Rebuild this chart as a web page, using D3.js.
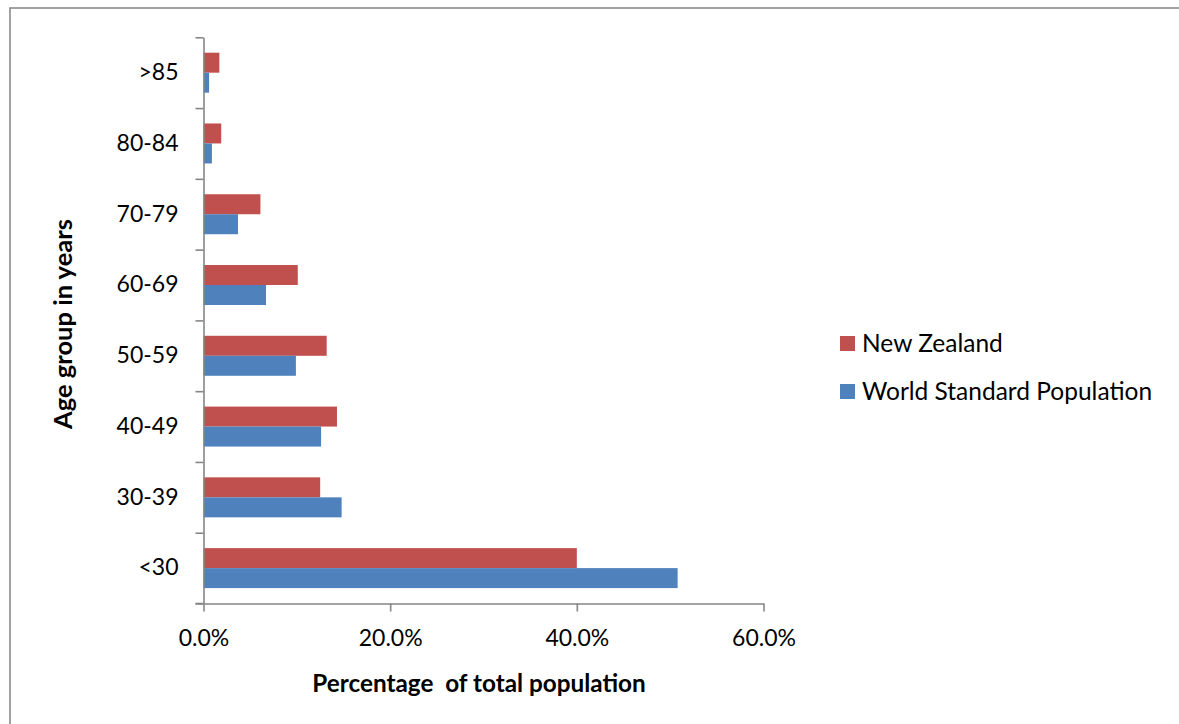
<!DOCTYPE html>
<html>
<head>
<meta charset="utf-8">
<script src="https://cdn.jsdelivr.net/npm/d3@7"></script>
<style>
  html, body { margin: 0; padding: 0; background: #fff; }
  svg { display: block; }
  text { font-family: Lato, "Open Sans", sans-serif; fill: #000; }
</style>
</head>
<body>
<svg id="chart" width="1179" height="724"></svg>
<script>
// Age groups, bottom to top as drawn
const ageGroups = ["<30", "30-39", "40-49", "50-59", "60-69", "70-79", "80-84", ">85"];
// Share of total population (%)
const newZealand = [40.0, 12.5, 14.3, 13.2, 10.1, 6.1, 1.9, 1.7];
const worldStandard = [50.8, 14.8, 12.6, 9.9, 6.7, 3.7, 0.9, 0.6];
const seriesNames = ["New Zealand", "World Standard Population"];
const seriesColors = ["#C0504D", "#4F81BD"];
const xTicks = [0, 20, 40, 60];

const svg = d3.select("#chart");

// Outer chart frame (runs off the right and bottom edges)
svg.append("rect")
  .attr("x", 10).attr("y", 8)
  .attr("width", 1200).attr("height", 760)
  .attr("fill", "none").attr("stroke", "#8a8a8a").attr("stroke-width", 1.6);

const plot = { left: 203.5, right: 763.5, top: 37.3, bottom: 603.5 };

const x = d3.scaleLinear().domain([0, 60]).range([plot.left, plot.right]);

// Bands from bottom (<30) to top (>85)
const y = d3.scaleBand()
  .domain(ageGroups)
  .range([plot.bottom, plot.top])
  .padding(0);

// Two bars per band, New Zealand above World Standard
const inner = d3.scaleBand()
  .domain(seriesNames)
  .range([y.bandwidth() * 0.2175, y.bandwidth() * 0.7825]);

const rows = ageGroups.map((g, i) => ({
  group: g,
  values: [newZealand[i], worldStandard[i]]
}));

const groups = svg.append("g").selectAll("g")
  .data(rows).join("g")
  .attr("transform", d => `translate(0,${y(d.group)})`);

groups.selectAll("rect")
  .data(d => d.values.map((v, k) => ({ name: seriesNames[k], value: v, k })))
  .join("rect")
  .attr("x", x(0))
  .attr("y", d => inner(d.name))
  .attr("width", d => x(d.value) - x(0))
  .attr("height", inner.bandwidth())
  .attr("fill", d => seriesColors[d.k]);

const axisColor = "#868686";

// Y axis: tick marks at band edges
const yEdge = d3.scaleLinear().domain([0, ageGroups.length]).range([plot.bottom, plot.top]);
const yAxisG = svg.append("g")
  .attr("transform", `translate(${plot.left},0)`)
  .call(d3.axisLeft(yEdge).tickValues(d3.range(ageGroups.length + 1)).tickFormat("").tickSize(8).tickSizeOuter(0));
yAxisG.selectAll("path, line").attr("stroke", axisColor).attr("stroke-width", 1.6);

// Y category labels
const yLabelG = svg.append("g")
  .attr("transform", `translate(${plot.left},0)`)
  .call(d3.axisLeft(y).tickSize(0).tickPadding(25));
yLabelG.select(".domain").remove();
yLabelG.selectAll("text")
  .style("font-family", "Lato, 'Open Sans', sans-serif")
  .style("font-size", "23px")
  .attr("fill", "#000");

// X axis
const xAxisG = svg.append("g")
  .attr("transform", `translate(0,${plot.bottom})`)
  .call(d3.axisBottom(x).tickValues(xTicks).tickFormat(d => d3.format(".1f")(d) + "%").tickSize(8).tickSizeOuter(0).tickPadding(18));
xAxisG.selectAll("path, line").attr("stroke", axisColor).attr("stroke-width", 1.6);
xAxisG.selectAll("text")
  .style("font-family", "Lato, 'Open Sans', sans-serif")
  .style("font-size", "23px")
  .attr("fill", "#000");
// extend the axis line left to meet the bottom y tick
svg.append("line")
  .attr("x1", plot.left - 8).attr("x2", plot.left)
  .attr("y1", plot.bottom).attr("y2", plot.bottom)
  .attr("stroke", axisColor).attr("stroke-width", 1.6);

// Axis titles
svg.append("text")
  .attr("x", 479).attr("y", 692)
  .attr("text-anchor", "middle")
  .style("font-size", "24.3px").style("font-weight", "bold")
  .attr("xml:space", "preserve")
  .text("Percentage  of total population");

svg.append("text")
  .attr("transform", "translate(72,324) rotate(-90)")
  .attr("text-anchor", "middle")
  .style("font-size", "25.5px").style("font-weight", "bold")
  .text("Age group in years");

// Legend
const legend = svg.append("g").selectAll("g")
  .data(seriesNames).join("g")
  .attr("transform", (d, i) => `translate(840,${343.5 + i * 48})`);
legend.append("rect")
  .attr("x", 0).attr("y", -7.5).attr("width", 15).attr("height", 15)
  .attr("fill", (d, i) => seriesColors[i]);
legend.append("text")
  .attr("x", 22).attr("y", 0).attr("dy", "0.35em")
  .style("font-size", "24.5px")
  .text(d => d);
</script>
</body>
</html>
